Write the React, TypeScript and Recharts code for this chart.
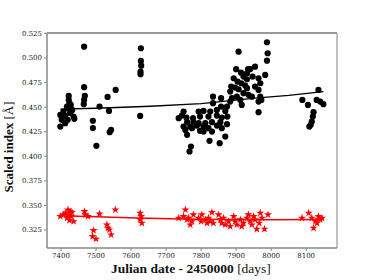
import React from "react";
import { ScatterChart, Scatter, XAxis, YAxis, ReferenceLine, Symbols } from "recharts";

const blackJD = [
  7398, 7398, 7402, 7407, 7412, 7412, 7417, 7419, 7422, 7422, 7424, 7428, 7432, 7436, 7438, 7420, 7426,
  7466, 7466, 7468, 7466, 7465, 7491, 7491, 7501, 7510, 7533, 7537, 7543, 7539, 7556,
  7626, 7628, 7628, 7629, 7627, 7627,
  7907, 7900, 7914, 7934, 7921, 7893, 7904, 7931, 7915, 7886, 7897, 7926, 7883, 7907, 7921, 7935, 7902,
  7888, 7912, 7916, 7883, 7834, 7857, 7834, 7857, 7874, 7845, 7869, 7826, 7807, 7793, 7750, 7745, 7736,
  7758, 7777, 7797, 7821, 7845, 7859, 7875, 7760, 7778, 7793, 7812, 7831, 7855, 7874, 7750, 7769, 7788,
  7807, 7755, 7774, 7797, 7821, 7845, 7859, 7760, 7807, 7831, 7869, 7824, 7853, 7771, 7767,
  7988, 7990, 7988, 7954, 7940, 7931, 7947, 7964, 7983, 7969, 7954, 7964, 7931, 7945, 7969, 7964, 7972, 7964,
  8135, 8089, 8105, 8130, 8140, 8149, 8121, 8119, 8116, 8113, 8109,
];
const blackIdx = [
  0.442, 0.4302, 0.437, 0.4454, 0.441, 0.4336, 0.4505, 0.437, 0.4613, 0.4573, 0.4539, 0.4522, 0.4471, 0.4403, 0.438, 0.449, 0.444,
  0.5114, 0.4702, 0.4613, 0.4573, 0.4529, 0.436, 0.4286, 0.4106, 0.4505, 0.4603, 0.4461, 0.4268, 0.4245, 0.4674,
  0.441, 0.5098, 0.4969, 0.4921, 0.486, 0.4834,
  0.5063, 0.4885, 0.485, 0.4885, 0.481, 0.4793, 0.4759, 0.4783, 0.4742, 0.4708, 0.4698, 0.4718, 0.4657, 0.4681, 0.4641, 0.4624, 0.4606,
  0.459, 0.4573, 0.4522, 0.4556, 0.4606, 0.459, 0.4539, 0.4505, 0.4505, 0.4471, 0.4461, 0.4454, 0.4461, 0.4454, 0.4454, 0.4413, 0.4387,
  0.4393, 0.4387, 0.4403, 0.4403, 0.4413, 0.4393, 0.4403, 0.4346, 0.4346, 0.4336, 0.4336, 0.4346, 0.4346, 0.4326, 0.4302, 0.4302, 0.4312,
  0.4302, 0.4268, 0.4285, 0.4258, 0.4285, 0.4312, 0.4285, 0.4218, 0.4251, 0.4251, 0.42, 0.4157, 0.4133, 0.4099, 0.4048,
  0.5159, 0.5047, 0.4972, 0.4911, 0.4885, 0.4844, 0.481, 0.4793, 0.4827, 0.4742, 0.4708, 0.4674, 0.4692, 0.4606, 0.4606, 0.4556, 0.4573, 0.4448,
  0.4674, 0.4573, 0.4522, 0.4573, 0.4556, 0.4529, 0.4448, 0.4403, 0.4353, 0.4319, 0.4302,
];

const redJD = [
  7398, 7412, 7420, 7426, 7422, 7429, 7407, 7417, 7424, 7431, 7436,
  7467, 7469, 7477, 7510, 7555, 7493, 7490, 7500, 7531, 7534, 7538, 7543,
  7626, 7629, 7626, 7631,
  7736, 7755, 7750, 7760, 7764, 7769, 7778, 7774,
  7793, 7802, 7800, 7812, 7817, 7821, 7831, 7826, 7835, 7850, 7855, 7859, 7864, 7869, 7878, 7883, 7893,
  7897, 7902, 7912, 7916, 7921, 7931, 7935, 7940, 7945, 7950, 7954, 7959, 7966, 7969, 7974, 7981, 7991,
  8088, 8107, 8116, 8126, 8135, 8145, 8121, 8131, 8140,
];
const redIdx = [
  0.3388, 0.3423, 0.3456, 0.3439, 0.3406, 0.3388, 0.3406, 0.3372, 0.3348, 0.343, 0.3337,
  0.3439, 0.3406, 0.3388, 0.3415, 0.3456, 0.3246, 0.3185, 0.3159, 0.3304, 0.327, 0.3253, 0.3202,
  0.3423, 0.3388, 0.3355, 0.332,
  0.3372, 0.3456, 0.3388, 0.3355, 0.3372, 0.3304, 0.3406, 0.3337,
  0.3372, 0.3406, 0.3337, 0.3355, 0.332, 0.3372, 0.343, 0.3337, 0.332, 0.3406, 0.3355, 0.332, 0.3372, 0.3304, 0.3337, 0.3287, 0.3388,
  0.3337, 0.3304, 0.3355, 0.3287, 0.332, 0.3372, 0.3406, 0.3337, 0.3304, 0.3388, 0.3355, 0.326, 0.332, 0.3423, 0.3372, 0.326, 0.3406,
  0.3372, 0.3423, 0.3372, 0.3337, 0.3388, 0.3372, 0.327, 0.332, 0.3355,
];

const blackTrendJD = [7398, 7500, 7655, 7800, 7954, 8050, 8149];
const blackTrendIdx = [0.448, 0.4488, 0.4508, 0.4535, 0.459, 0.4618, 0.4657];
const redTrendJD = [7398, 7500, 7620, 7740, 7860, 8000, 8150];
const redTrendIdx = [0.3395, 0.3384, 0.3372, 0.3363, 0.3357, 0.3355, 0.3357];

const xTicks = [7400, 7500, 7600, 7700, 7800, 7900, 8000, 8100];
const yTicks = [0.325, 0.35, 0.375, 0.4, 0.425, 0.45, 0.475, 0.5, 0.525];

const X_MIN = 7360;
const X_MAX = 8188;
const Y_MIN = 0.3067;
const Y_MAX = 0.5253;

const blackData = blackJD.map((x, i) => ({ x, y: blackIdx[i] }));
const redData = redJD.map((x, i) => ({ x, y: redIdx[i] }));
const blackTrend = blackTrendJD.map((x, i) => ({ x, y: blackTrendIdx[i] }));
const redTrend = redTrendJD.map((x, i) => ({ x, y: redTrendIdx[i] }));

const tickStyle = { fontFamily: "DejaVu Serif", fontSize: 7, fill: "#222" };

const Dot = (p: any) => <circle cx={p.cx} cy={p.cy} r={3.1} fill="#000" />;
const Star = (p: any) => <Symbols cx={p.cx} cy={p.cy} type="star" size={20} fill="#ff0000" />;
const NoShape = () => <g />;

const XLabel = () => (
  <text x={191} y={273} textAnchor="middle" fontFamily="Liberation Serif" fontSize={13.5} fill="#111">
    <tspan fontWeight="bold">Julian date - 2450000 </tspan>
    <tspan>[days]</tspan>
  </text>
);
const YLabel = () => (
  <text
    x={0}
    y={0}
    transform="translate(13,147) rotate(-90)"
    textAnchor="middle"
    fontFamily="Liberation Serif"
    fontSize={13}
    fill="#111"
  >
    <tspan fontWeight="bold">Scaled index </tspan>
    <tspan>[Å]</tspan>
  </text>
);

export default function App() {
  return (
    <div style={{ position: "absolute", left: 0, top: 0, width: 374, height: 280, background: "#fff" }}>
      <ScatterChart width={374} height={280} margin={{ top: 33, right: 37, bottom: 0, left: 0 }}>
        <XAxis
          type="number"
          dataKey="x"
          domain={[X_MIN, X_MAX]}
          ticks={xTicks}
          allowDataOverflow
          height={32}
          tick={tickStyle}
          tickSize={3}
          tickMargin={2}
          axisLine={{ stroke: "#888", strokeWidth: 1.5 }}
          tickLine={{ stroke: "#888" }}
          label={{ content: () => <XLabel /> }}
        />
        <YAxis
          type="number"
          dataKey="y"
          domain={[Y_MIN, Y_MAX]}
          ticks={yTicks}
          allowDataOverflow
          width={47}
          tick={tickStyle}
          tickSize={3}
          tickMargin={2}
          tickFormatter={(v: number) => v.toFixed(3)}
          axisLine={{ stroke: "#888", strokeWidth: 1.5 }}
          tickLine={{ stroke: "#888" }}
          label={{ content: () => <YLabel /> }}
        />
        <ReferenceLine y={Y_MAX} stroke="#333" strokeWidth={1} ifOverflow="visible" />
        <ReferenceLine x={X_MAX} stroke="#999" strokeWidth={1.2} ifOverflow="visible" />
        <Scatter data={blackData} shape={Dot} isAnimationActive={false} />
        <Scatter data={redData} shape={Star} isAnimationActive={false} />
        <Scatter
          data={blackTrend}
          shape={NoShape}
          line={{ stroke: "#000", strokeWidth: 1.3 }}
          lineType="joint"
          isAnimationActive={false}
        />
        <Scatter
          data={redTrend}
          shape={NoShape}
          line={{ stroke: "#ff0000", strokeWidth: 1.5 }}
          lineType="joint"
          isAnimationActive={false}
        />
      </ScatterChart>
    </div>
  );
}
